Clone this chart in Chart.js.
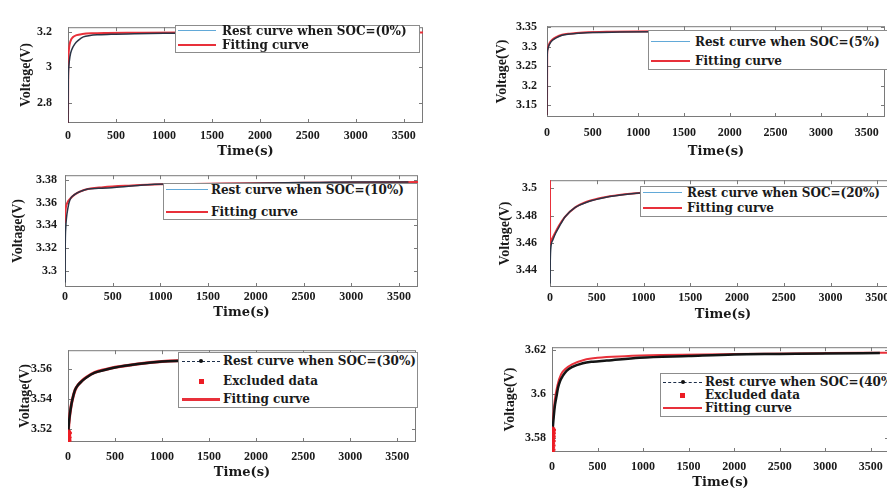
<!DOCTYPE html>
<html>
<head>
<meta charset="utf-8">
<script src="https://cdn.jsdelivr.net/npm/chart.js@4.4.0/dist/chart.umd.min.js"></script>
<style>
  body { margin: 0; width: 887px; height: 492px; overflow: hidden; background: #fff; position: relative; }
  canvas { position: absolute; }
  .legend { position: absolute; background: #fff; border: 1px solid #8c8c8c; box-sizing: border-box;
            font: bold 12px "DejaVu Serif", serif; color: #1a1a1a; white-space: nowrap; overflow: visible; }
  .legend span { position: absolute; line-height: 14px; }
  .legend .sample { position: absolute; height: 0; }
  .legend .dot { position: absolute; width: 4px; height: 4px; border-radius: 50%; }
  .legend .mark { position: absolute; width: 5px; height: 5px; }
</style>
</head>
<body>
<script>
// time axis ticks (s), shared by all six panels
const xTicks = [0, 500, 1000, 1500, 2000, 2500, 3000, 3500];

// SOC = 0%
const restT1 = [0, 3, 8, 20, 40, 70, 110, 160, 230, 320, 450, 700, 1000, 1500, 2000, 2500, 3000, 3600];
const restV1 = [2.69, 2.93, 3.0, 3.06, 3.1, 3.13, 3.152, 3.17, 3.178, 3.182, 3.185, 3.188, 3.19, 3.191, 3.192, 3.193, 3.194, 3.195];
const fitT1 = [0, 2, 5, 12, 25, 50, 90, 150, 250, 400, 700, 1200, 2000, 3000, 3700];
const fitV1 = [2.69, 2.95, 3.05, 3.11, 3.145, 3.168, 3.18, 3.186, 3.19, 3.192, 3.193, 3.194, 3.194, 3.195, 3.195];
const yTicks1 = [2.8, 3, 3.2];

// SOC = 5%
const restT2 = [0, 2, 6, 15, 30, 60, 100, 165, 250, 350, 500, 800, 1200, 2000, 3000, 3600];
const restV2 = [3.125, 3.27, 3.29, 3.299, 3.307, 3.316, 3.322, 3.329, 3.332, 3.334, 3.336, 3.337, 3.338, 3.339, 3.34, 3.34];
const fitT2 = [0, 2, 6, 15, 30, 60, 100, 165, 250, 400, 700, 1200, 2000, 3000, 3700];
const fitV2 = [3.125, 3.28, 3.293, 3.302, 3.31, 3.318, 3.324, 3.33, 3.333, 3.336, 3.338, 3.339, 3.339, 3.34, 3.34];
const yTicks2 = [3.15, 3.2, 3.25, 3.3, 3.35];

// SOC = 10%
const restT3 = [0, 3, 8, 15, 30, 50, 100, 170, 240, 350, 490, 700, 940, 1500, 2000, 2500, 3000, 3600];
const restV3 = [3.29, 3.325, 3.338, 3.346, 3.355, 3.362, 3.367, 3.37, 3.372, 3.3725, 3.373, 3.3745, 3.376, 3.3765, 3.377, 3.3775, 3.378, 3.378];
const fitT3 = [0, 3, 10, 25, 50, 100, 200, 400, 700, 1000, 1500, 2000, 3000, 3700];
const fitV3 = [3.342, 3.35, 3.356, 3.36, 3.363, 3.367, 3.371, 3.3735, 3.375, 3.376, 3.3765, 3.377, 3.3775, 3.378];
const yTicks3 = [3.3, 3.32, 3.34, 3.36, 3.38];

// SOC = 20%
const restT4 = [0, 3, 10, 30, 60, 100, 160, 270, 400, 600, 800, 1050, 1500, 2000, 2600, 3000, 3600];
const restV4 = [3.43, 3.447, 3.457, 3.462, 3.467, 3.472, 3.479, 3.486, 3.49, 3.4935, 3.4955, 3.497, 3.498, 3.499, 3.4995, 3.5, 3.5];
const fitT4 = [0, 1, 10, 30, 60, 100, 160, 270, 400, 600, 800, 1050, 1500, 2000, 3000, 3700];
const fitV4 = [3.51, 3.459, 3.461, 3.464, 3.468, 3.473, 3.479, 3.486, 3.4903, 3.4937, 3.4957, 3.4972, 3.4985, 3.4993, 3.5002, 3.5005];
const yTicks4 = [3.44, 3.46, 3.48, 3.5];

// SOC = 30%
const restT5 = [0, 5, 15, 30, 45, 75, 110, 150, 200, 285, 400, 500, 740, 1000, 1500, 2000, 2500, 3000, 3600];
const restV5 = [3.513, 3.52, 3.527, 3.534, 3.539, 3.546, 3.5495, 3.552, 3.5545, 3.5575, 3.5595, 3.561, 3.5633, 3.565, 3.566, 3.567, 3.5675, 3.568, 3.5686];
const exclT5 = [0, 2, 4];
const exclV5 = [3.512, 3.514, 3.517];
const fitT5 = [0, 5, 15, 30, 45, 75, 110, 150, 200, 285, 400, 500, 740, 1000, 1500, 2000, 3000, 3700];
const fitV5 = [3.512, 3.519, 3.527, 3.534, 3.539, 3.5458, 3.5495, 3.5522, 3.5547, 3.5577, 3.5597, 3.5611, 3.5634, 3.565, 3.5662, 3.567, 3.568, 3.5685];
const yTicks5 = [3.52, 3.54, 3.56];

// SOC = 40%
const restT6 = [0, 3, 10, 20, 33, 50, 65, 90, 120, 160, 218, 338, 450, 600, 960, 1500, 2000, 2500, 3000, 3600];
const restV6 = [3.575, 3.58, 3.585, 3.59, 3.595, 3.599, 3.6026, 3.606, 3.6083, 3.6105, 3.6122, 3.614, 3.6147, 3.6152, 3.6165, 3.6173, 3.618, 3.6182, 3.6184, 3.6186];
const exclT6 = [0, 1, 2, 3, 4, 5];
const exclV6 = [3.5745, 3.5765, 3.5785, 3.5805, 3.582, 3.5835];
const fitT6 = [0, 10, 30, 60, 100, 150, 220, 350, 500, 800, 1200, 2000, 3000, 3700];
const fitV6 = [3.58, 3.588, 3.597, 3.604, 3.609, 3.6115, 3.6135, 3.6155, 3.6165, 3.6172, 3.6177, 3.6182, 3.6186, 3.6188];
const yTicks6 = [3.58, 3.6, 3.62];

const socLabels = ['0%', '5%', '10%', '20%', '30%', '40%'];

const LEGEND_FONT = '"DejaVu Serif", serif';
const TICK_FONT = '"Liberation Serif", "Times New Roman", serif';
const RED = '#e8303a';
const X_MAX = 3700;

// layout of each subplot (page pixels)
const panels = [
  { soc: socLabels[0], rest: [restT1, restV1], fit: [fitT1, fitV1], yMin: 2.69, yMax: 3.224, yTicks: yTicks1,
    rect: { l: 68, t: 12, r: 423, b: 123 }, yPad: 16, yTitleX: 26, xTickOff: 13, xTitleOff: 29,
    legend: { x: 175, y: 25, w: 245, h: 28, rows: [31, 45], s1: 178, s2: 216, tx: 222 } },
  { soc: socLabels[1], rest: [restT2, restV2], fit: [fitT2, fitV2], yMin: 3.12, yMax: 3.352, yTicks: yTicks2,
    rect: { l: 547, t: 17, r: 885, b: 117 }, yPad: 10, yTitleX: 502, xTickOff: 16, xTitleOff: 35,
    legend: { x: 648, y: 30, w: 260, h: 40, rows: [42, 61], s1: 651, s2: 690, tx: 695 } },
  { soc: socLabels[2], rest: [restT3, restV3], fit: [fitT3, fitV3], yMin: 3.286, yMax: 3.384, yTicks: yTicks3,
    rect: { l: 65, t: 168, r: 418, b: 287 }, yPad: 8, yTitleX: 18, xTickOff: 10, xTitleOff: 26,
    legend: { x: 163, y: 183, w: 255, h: 37, rows: [190, 212], s1: 166, s2: 208, tx: 211 } },
  { soc: socLabels[3], rest: [restT4, restV4], fit: [fitT4, fitV4], yMin: 3.4275, yMax: 3.506, yTicks: yTicks4,
    rect: { l: 550, t: 168, r: 896, b: 287 }, yPad: 13, yTitleX: 505, xTickOff: 11, xTitleOff: 28,
    legend: { x: 640, y: 186, w: 260, h: 31, rows: [193, 208], s1: 643, s2: 682, tx: 687 } },
  { soc: socLabels[4], rest: [restT5, restV5], excl: [exclT5, exclV5], fit: [fitT5, fitV5], yMin: 3.511, yMax: 3.5726, yTicks: yTicks5,
    rect: { l: 68, t: 335, r: 418, b: 442 }, yPad: 16, yTitleX: 25, xTickOff: 15, xTitleOff: 31, fitWidth: 3,
    legend: { x: 178, y: 352, w: 240, h: 56, rows: [361, 381, 399], s1: 182, s2: 220, tx: 223 } },
  { soc: socLabels[5], rest: [restT6, restV6], excl: [exclT6, exclV6], fit: [fitT6, fitV6], yMin: 3.5735, yMax: 3.6213, yTicks: yTicks6,
    rect: { l: 552, t: 342, r: 891, b: 452 }, yPad: 6, yTitleX: 510, xTickOff: 15, xTitleOff: 31,
    legend: { x: 660, y: 373, w: 240, h: 44, rows: [382, 395, 408], s1: 663, s2: 702, tx: 705 } }
];

const toPoints = (ts, vs) => ts.map((t, i) => ({ x: t, y: vs[i] }));
const fmt = v => String(Math.round(v * 1000) / 1000);

// box + inward tick marks, drawn under the curves like MATLAB's "box on"
const framePlugin = {
  id: 'frame',
  beforeDatasetsDraw(chart) {
    const { ctx, chartArea: a, scales: { x, y } } = chart;
    ctx.save();
    ctx.strokeStyle = '#7a7a7a';
    ctx.lineWidth = 1;
    ctx.strokeRect(a.left + 0.5, a.top + 0.5, a.right - a.left - 1, a.bottom - a.top - 1);
    ctx.beginPath();
    x.ticks.forEach(t => {
      const px = Math.round(x.getPixelForValue(t.value)) + 0.5;
      ctx.moveTo(px, a.bottom); ctx.lineTo(px, a.bottom - 4);
      ctx.moveTo(px, a.top); ctx.lineTo(px, a.top + 4);
    });
    y.ticks.forEach(t => {
      const py = Math.round(y.getPixelForValue(t.value)) + 0.5;
      ctx.moveTo(a.left, py); ctx.lineTo(a.left + 4, py);
      ctx.moveTo(a.right, py); ctx.lineTo(a.right - 4, py);
    });
    ctx.stroke();
    ctx.restore();
  }
};

function buildLegend(p, datasets) {
  const lg = p.legend;
  const box = document.createElement('div');
  box.className = 'legend';
  Object.assign(box.style, { left: lg.x + 'px', top: lg.y + 'px', width: lg.w + 'px', height: lg.h + 'px' });
  const ox = lg.x + 1, oy = lg.y + 1;

  datasets.forEach((ds, i) => {
    const cy = lg.rows[i] - oy;
    const midX = (lg.s1 + lg.s2) / 2 - ox;
    if (ds.legendStyle === 'marker') {
      const m = document.createElement('div');
      m.className = 'mark';
      Object.assign(m.style, { left: (midX - 2.5) + 'px', top: (cy - 2.5) + 'px', background: ds.borderColor });
      box.appendChild(m);
    } else {
      const line = document.createElement('div');
      line.className = 'sample';
      const w = ds.legendStyle === 'dotdash' ? 1 : Math.max(1, ds.borderWidth);
      Object.assign(line.style, {
        left: (lg.s1 - ox) + 'px', width: (lg.s2 - lg.s1) + 'px', top: (cy - w / 2) + 'px',
        borderTop: `${w}px ${ds.legendStyle === 'dotdash' ? 'dashed' : 'solid'} ${ds.legendColor || ds.borderColor}`
      });
      box.appendChild(line);
      if (ds.legendStyle === 'dotdash') {
        const dot = document.createElement('div');
        dot.className = 'dot';
        Object.assign(dot.style, { left: (midX - 2) + 'px', top: (cy - 2) + 'px', background: '#111' });
        box.appendChild(dot);
      }
    }
    const label = document.createElement('span');
    label.textContent = ds.label;
    label.style.fontFamily = LEGEND_FONT;
    Object.assign(label.style, { left: (lg.tx - ox) + 'px', top: (cy - 7) + 'px' });
    box.appendChild(label);
  });
  document.body.appendChild(box);
}

panels.forEach(p => {
  const AXW = 70, AXH = 45, PADT = 8, PADR = 4;
  const { l, t, r, b } = p.rect;
  const canvas = document.createElement('canvas');
  canvas.width = r - l + AXW + PADR;
  canvas.height = b - t + PADT + AXH;
  canvas.style.left = (l - AXW) + 'px';
  canvas.style.top = (t - PADT) + 'px';
  document.body.appendChild(canvas);

  const dotted = !!p.excl;
  const datasets = [
    {
      label: `Rest curve when SOC=(${p.soc})`,
      data: toPoints(p.rest[0], p.rest[1]),
      borderColor: dotted ? '#141414' : '#2a3446',
      legendColor: dotted ? '#1d2f4a' : '#62a9d8',
      legendStyle: dotted ? 'dotdash' : 'line',
      borderWidth: dotted ? 2.5 : 1.5,
      cubicInterpolationMode: 'monotone',
      order: 1
    }
  ];
  if (p.excl) {
    datasets.push({
      label: 'Excluded data',
      data: toPoints(p.excl[0], p.excl[1]),
      showLine: false,
      pointStyle: 'star',
      pointRadius: 3.5,
      pointBorderWidth: 2,
      borderColor: '#ec1c24',
      backgroundColor: '#ec1c24',
      legendStyle: 'marker',
      order: 0
    });
  }
  datasets.push({
    label: 'Fitting curve',
    data: toPoints(p.fit[0], p.fit[1]),
    borderColor: RED,
    borderWidth: p.fitWidth || 2,
    legendStyle: 'line',
    cubicInterpolationMode: 'monotone',
    order: 2
  });

  new Chart(canvas.getContext('2d'), {
    type: 'line',
    data: { datasets },
    options: {
      responsive: false,
      animation: false,
      devicePixelRatio: 1,
      layout: { padding: { left: 0, top: PADT, right: PADR, bottom: 0 } },
      elements: { point: { radius: 0 } },
      plugins: { legend: { display: false }, tooltip: { enabled: false } },
      scales: {
        x: {
          type: 'linear',
          min: 0,
          max: X_MAX,
          afterBuildTicks: s => { s.ticks = xTicks.map(v => ({ value: v })); },
          afterFit: s => { s.height = AXH; },
          grid: { display: false, drawTicks: false },
          border: { display: false },
          ticks: { autoSkip: false, maxRotation: 0, padding: p.xTickOff - 7, color: '#1a1a1a',
                   font: { family: TICK_FONT, size: 12, weight: 'bold' }, callback: v => String(v) },
          title: { display: true, text: 'Time(s)', color: '#1a1a1a',
                   font: { family: LEGEND_FONT, size: 13, weight: 'bold' },
                   padding: { top: 0, bottom: AXH - p.xTitleOff - 7.8 } }
        },
        y: {
          type: 'linear',
          min: p.yMin,
          max: p.yMax,
          afterBuildTicks: s => { s.ticks = p.yTicks.map(v => ({ value: v })); },
          afterFit: s => { s.width = AXW; },
          grid: { display: false, drawTicks: false },
          border: { display: false },
          ticks: { autoSkip: false, padding: p.yPad, color: '#1a1a1a',
                   font: { family: TICK_FONT, size: 12, weight: 'bold' }, callback: v => fmt(v) },
          title: { display: true, text: 'Voltage(V)', color: '#1a1a1a',
                   font: { family: TICK_FONT, size: 14, weight: 'bold' },
                   padding: { top: p.yTitleX - (l - AXW) - 8.4, bottom: 0 } }
        }
      }
    },
    plugins: [framePlugin]
  });

  buildLegend(p, datasets);
});
</script>
</body>
</html>
